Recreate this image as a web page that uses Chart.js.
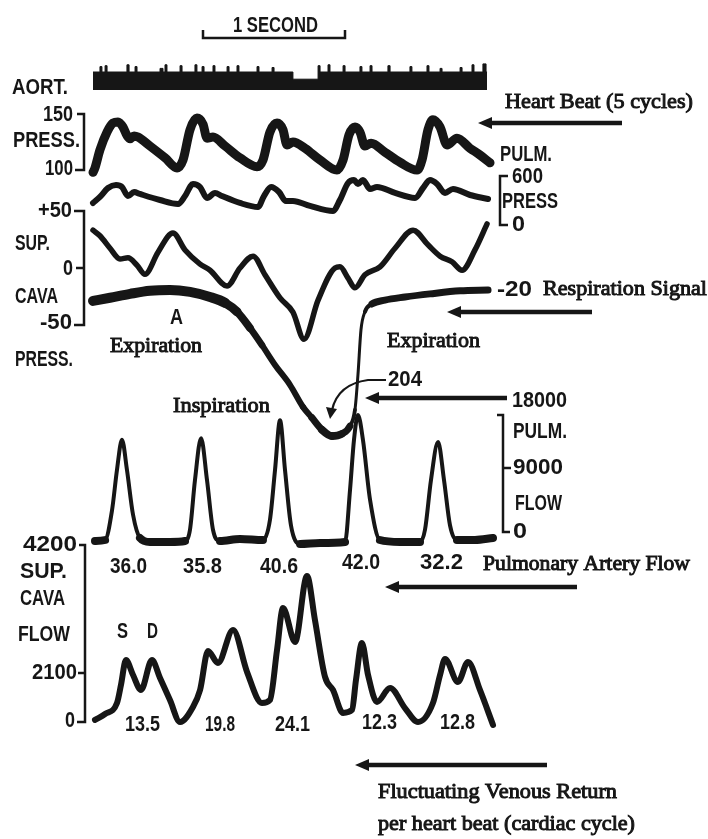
<!doctype html>
<html>
<head>
<title>Venous return recording</title>
<script src="https://cdn.jsdelivr.net/npm/chart.js"></script>
<style>
body { margin: 0; background: #fff; }
#wrap { width: 708px; height: 839px; }
</style>
</head>
<body>
<div id="wrap"><canvas id="canvas" width="708" height="839"></canvas></div>
<script>
// time in seconds from the start of the record (the "1 SECOND" bar = 142 px)
const markT = [0, 0.049, 0.063, 0.085, 0.099, 0.239, 0.254, 0.296, 0.310, 0.472, 0.493, 0.507, 0.521, 0.613, 0.627, 0.718, 0.732, 0.768, 0.782, 0.845, 0.859, 0.944, 0.958, 1.014, 1.028, 1.155, 1.169, 1.261, 1.275, 1.408, 1.585, 1.599, 1.655, 1.669, 1.761, 1.775, 1.880, 1.894, 1.951, 1.965, 2.077, 2.092, 2.232, 2.246, 2.352, 2.366, 2.444, 2.458, 2.585, 2.599, 2.669, 2.683, 2.746, 2.768, 2.775];
const markV = [1, 1.3, 1, 1.35, 1, 1.4, 1, 1.3, 1, 1.2, 1, 1.4, 1, 1.35, 1, 1.4, 1, 1.3, 1, 1.35, 1, 1.3, 1, 1.35, 1, 1.3, 1, 1.25, 1, 0.6, 1.35, 1, 1.4, 1, 1.35, 1, 1.3, 1, 1.35, 1, 1.35, 1, 1.3, 1, 1.35, 1, 1.2, 1, 1.25, 1, 1.4, 1, 1.45, 1, 1];

// aortic pressure, mmHg
const aortT = [0, 0.014, 0.049, 0.099, 0.141, 0.176, 0.211, 0.239, 0.261, 0.289, 0.317, 0.401, 0.507, 0.592, 0.634, 0.683, 0.732, 0.775, 0.803, 0.845, 0.930, 1.035, 1.155, 1.197, 1.246, 1.296, 1.338, 1.366, 1.408, 1.493, 1.599, 1.718, 1.761, 1.803, 1.845, 1.880, 1.915, 1.958, 2.056, 2.162, 2.282, 2.317, 2.359, 2.394, 2.444, 2.493, 2.563, 2.655, 2.725, 2.796];
const aortP = [97, 101, 117, 133, 141, 142, 137.5, 130, 127, 129.5, 128.5, 120.5, 110, 101, 108, 135, 145.5, 140, 127.5, 128.5, 120.5, 110, 102, 108, 133, 141, 135, 121.5, 124, 118.5, 108, 99, 108, 130.5, 137.5, 133, 120.5, 123, 115, 106, 99, 108, 135, 144, 137.5, 121.5, 127.5, 118.5, 112.5, 105.5];

// pulmonary artery pressure
const pulmPT = [0, 0.049, 0.106, 0.162, 0.204, 0.246, 0.289, 0.331, 0.472, 0.599, 0.648, 0.704, 0.754, 0.803, 0.859, 0.908, 1.035, 1.162, 1.204, 1.254, 1.310, 1.359, 1.408, 1.528, 1.690, 1.739, 1.796, 1.838, 1.866, 1.901, 1.951, 2.000, 2.127, 2.268, 2.324, 2.373, 2.423, 2.479, 2.535, 2.655, 2.782];
const pulmPV = [281, 358, 472, 511, 485, 370, 421, 396, 319, 268, 370, 524, 485, 345, 409, 370, 281, 230, 370, 485, 421, 306, 306, 243, 179, 319, 536, 574, 524, 574, 460, 485, 409, 345, 472, 574, 524, 409, 460, 383, 332];

// superior vena cava pressure
const svcPT = [0, 0.049, 0.120, 0.190, 0.246, 0.310, 0.366, 0.458, 0.563, 0.648, 0.754, 0.824, 0.944, 1.035, 1.127, 1.211, 1.317, 1.408, 1.486, 1.585, 1.704, 1.739, 1.796, 1.845, 1.915, 2.021, 2.127, 2.254, 2.359, 2.444, 2.528, 2.599, 2.690, 2.775];
const svcPV = [33.5, 28.5, 17.5, 8, 9, 2.5, -5.5, 14, 31, 16, 3.5, -2, -16, 0, 10.5, -6, -26.5, -39, -63, -28.5, 0, 1, -9, -17.5, -6, 1, 17.5, 33.5, 20.5, 10.5, 5.5, -2, 16, 39];

// respiration signal
const respT = [0, 0.120, 0.261, 0.401, 0.542, 0.683, 0.824, 0.930, 1.014, 1.106, 1.190, 1.282, 1.387, 1.479, 1.542, 1.613, 1.683, 1.754, 1.810, 1.845, 1.866, 1.887, 1.915, 1.965, 2.056, 2.197, 2.373, 2.585, 2.782];
const respV = [-34, -30, -25, -21, -20, -22.5, -29, -36.5, -48, -69, -91, -116.5, -142, -170.5, -184.5, -200, -208, -205, -195, -174, -129, -71.5, -48, -38, -33, -29, -25, -21, -20];

// pulmonary artery flow
const pulmFT = [0.014, 0.085, 0.134, 0.169, 0.204, 0.239, 0.282, 0.331, 0.401, 0.542, 0.648, 0.683, 0.718, 0.761, 0.803, 0.845, 0.894, 1.035, 1.197, 1.246, 1.282, 1.317, 1.352, 1.394, 1.458, 1.599, 1.775, 1.810, 1.838, 1.866, 1.901, 1.951, 2.021, 2.162, 2.303, 2.338, 2.380, 2.430, 2.472, 2.514, 2.563, 2.690, 2.817];
const pulmFV = [-400, -270, 3700, 9100, 13100, 9100, 3100, 0, -530, -530, -400, 1100, 7700, 13300, 7700, 1100, -400, -130, -270, 2400, 9100, 15700, 9100, 1700, -800, -670, -530, 6400, 13100, 16400, 13100, 5100, -270, -530, -530, 1100, 7700, 12800, 7700, 1700, -270, -270, 0];

// superior vena cava flow
const svcFT = [0.014, 0.085, 0.169, 0.197, 0.232, 0.282, 0.338, 0.415, 0.472, 0.542, 0.613, 0.704, 0.754, 0.810, 0.880, 0.986, 1.085, 1.190, 1.246, 1.296, 1.338, 1.423, 1.507, 1.563, 1.634, 1.690, 1.761, 1.824, 1.852, 1.894, 1.937, 2.000, 2.092, 2.197, 2.289, 2.394, 2.444, 2.479, 2.570, 2.641, 2.725, 2.817];
const svcFV = [50, 190, 450, 880, 1470, 1115, 760, 1470, 1045, 520, 0, 355, 760, 1685, 1400, 2185, 1185, 450, 520, 1710, 2705, 1900, 3465, 2420, 1070, 760, 215, 285, 1000, 1875, 1115, 475, 805, 330, 0, 450, 1115, 1495, 950, 1425, 760, -70];

// per-beat volumes printed under the flow traces
const pulmBeats = ['36.0', '35.8', '40.6', '42.0', '32.2'];
const svcBeats = ['13.5', '19.8', '24.1', '12.3', '12.8'];

const W = 708, H = 839;
const INK = '#161616';
const SANS = 'bold 22px "Liberation Sans Narrow", "Liberation Sans", Arial, sans-serif';
const SERIF = '22px "Liberation Serif", "Times New Roman", serif';

function pts(ts, vs) {
	return ts.map((t, i) => ({x: t, y: vs[i]}));
}

// a hidden linear axis that puts value v1 at pixel p1 and v2 at pixel p2
function band(v1, p1, v2, p2) {
	const k = (v1 - v2) / (p2 - p1);
	return {type: 'linear', display: false, bounds: 'data', min: v1 - (H - p1) * k, max: v1 + p1 * k};
}

function trace(label, ts, vs, axis, width) {
	return {
		label: label,
		data: pts(ts, vs),
		yAxisID: axis,
		borderColor: INK,
		borderWidth: width,
		borderCapStyle: 'round',
		borderJoinStyle: 'round',
		pointRadius: 0,
		cubicInterpolationMode: 'monotone',
		fill: false
	};
}

function fitText(ctx, s, x0, x1, y, font, base, thick) {
	ctx.font = font;
	const w = ctx.measureText(s).width;
	ctx.save();
	ctx.translate(x0, y);
	ctx.scale((x1 - x0) / w, 1);
	ctx.textAlign = 'left';
	ctx.textBaseline = base;
	ctx.fillText(s, 0, 0);
	if (thick) {
		ctx.lineWidth = thick;
		ctx.strokeText(s, 0, 0);
	}
	ctx.restore();
}

function arrow(ctx, tip, tail, y) {
	ctx.lineWidth = 4.5;
	ctx.beginPath();
	ctx.moveTo(tip + 10, y);
	ctx.lineTo(tail, y);
	ctx.stroke();
	ctx.beginPath();
	ctx.moveTo(tip, y);
	ctx.lineTo(tip + 14, y - 6);
	ctx.lineTo(tip + 14, y + 6);
	ctx.closePath();
	ctx.fill();
}

function poly(ctx, p) {
	ctx.beginPath();
	ctx.moveTo(p[0][0], p[0][1]);
	for (let i = 1; i < p.length; i++) {
		ctx.lineTo(p[i][0], p[i][1]);
	}
	ctx.stroke();
}

const sansLabels = [
	['AORT.', 12, 68, 88], ['150', 43, 73, 115], ['PRESS.', 13, 80, 141], ['100', 45, 73, 169],
	['+50', 38, 72, 211], ['SUP.', 15, 50, 244], ['0', 63, 73, 269], ['CAVA', 15, 58, 297],
	['-50', 40, 72, 323], ['PRESS.', 15, 73, 360],
	['4200', 23, 77, 545], ['SUP.', 20, 67, 572], ['CAVA', 20, 65, 599], ['FLOW', 18, 70, 635],
	['2100', 32, 77, 673], ['0', 65, 75, 721],
	['1 SECOND', 233, 318, 26],
	['PULM.', 500, 552, 155], ['600', 512, 543, 177], ['PRESS', 502, 558, 202], ['0', 512, 525, 225],
	['-20', 497, 532, 290], ['A', 170, 183, 318], ['204', 388, 422, 380],
	['18000', 512, 567, 401], ['PULM.', 513, 567, 432], ['9000', 513, 563, 468], ['FLOW', 515, 562, 504], ['0', 513, 527, 532],
	['S', 117, 128, 632], ['D', 147, 158, 632]
];
const pulmBeatPos = [[110, 147, 567], [183, 222, 567], [260, 298, 567], [342, 380, 563], [420, 463, 563]];
const svcBeatPos = [[125, 160, 725], [205, 235, 725], [275, 310, 725], [362, 397, 723], [440, 475, 723]];

const serifLabels = [
	['Heart Beat (5 cycles)', 505, 693, 108],
	['Respiration Signal', 543, 707, 295],
	['Expiration', 110, 202, 352],
	['Expiration', 387, 480, 347],
	['Inspiration', 173, 270, 412],
	['Pulmonary Artery Flow', 483, 690, 570],
	['Fluctuating Venous Return', 378, 617, 798],
	['per heart beat (cardiac cycle)', 378, 635, 830]
];
const arrows = [[478, 622, 123], [447, 592, 312], [365, 507, 398], [385, 577, 587], [355, 547, 765]];

const paper = {
	id: 'paper',
	beforeDraw(chart) {
		const ctx = chart.ctx;
		ctx.save();
		ctx.fillStyle = '#fff';
		ctx.fillRect(0, 0, W, H);
		ctx.restore();
	},
	afterDraw(chart) {
		const ctx = chart.ctx;
		ctx.save();
		ctx.fillStyle = INK;
		ctx.strokeStyle = INK;
		sansLabels.forEach(l => fitText(ctx, l[0], l[1], l[2], l[3], SANS, 'middle'));
		pulmBeats.forEach((s, i) => fitText(ctx, s, pulmBeatPos[i][0], pulmBeatPos[i][1], pulmBeatPos[i][2], SANS, 'middle'));
		svcBeats.forEach((s, i) => fitText(ctx, s, svcBeatPos[i][0], svcBeatPos[i][1], svcBeatPos[i][2], SANS, 'middle'));
		serifLabels.forEach(l => fitText(ctx, l[0], l[1], l[2], l[3], SERIF, 'alphabetic', 1));

		ctx.lineCap = 'butt';
		arrows.forEach(a => arrow(ctx, a[0], a[1], a[2]));

		// scale brackets
		ctx.lineWidth = 2.5;
		poly(ctx, [[203, 30], [203, 38], [345, 38], [345, 30]]);
		poly(ctx, [[77, 114], [84, 114], [84, 170], [75, 170]]);
		poly(ctx, [[74, 211], [84, 211], [84, 325], [74, 325]]);
		poly(ctx, [[76, 268], [84, 268]]);
		poly(ctx, [[79, 545], [85, 545], [85, 722], [77, 722]]);
		poly(ctx, [[78, 673], [85, 673]]);
		poly(ctx, [[508, 176], [500, 176], [500, 225], [508, 225]]);
		poly(ctx, [[497, 415], [503, 415], [503, 532], [510, 532]]);
		poly(ctx, [[503, 468], [511, 468]]);

		// leader from the -204 reading down to the respiration trough
		ctx.lineWidth = 2.2;
		ctx.beginPath();
		ctx.moveTo(386, 380);
		ctx.lineTo(368, 380);
		ctx.quadraticCurveTo(338, 384, 332, 410);
		ctx.stroke();
		ctx.beginPath();
		ctx.moveTo(330, 419);
		ctx.lineTo(326, 407);
		ctx.lineTo(337, 409);
		ctx.closePath();
		ctx.fill();
		ctx.restore();
	}
};

// pen width of the respiration trace along the record (thick at rest, thin on the fast upstroke)
const respPen = [[0, 10], [0.9, 10], [1.2, 6], [1.5, 6], [1.65, 8], [1.78, 7], [1.84, 3], [1.92, 3], [2.0, 7], [2.8, 7]];
function respWidth(t) {
	for (let i = 1; i < respPen.length; i++) {
		const a = respPen[i - 1], b = respPen[i];
		if (t <= b[0]) {
			return a[1] + (b[1] - a[1]) * (t - a[0]) / (b[0] - a[0]);
		}
	}
	return respPen[respPen.length - 1][1];
}

const ctx = document.getElementById('canvas').getContext('2d');
window.myChart = new Chart(ctx, {
	type: 'line',
	data: {
		datasets: [
			{
				label: 'Time marker',
				data: pts(markT, markV),
				yAxisID: 'yMark',
				stepped: true,
				borderColor: INK,
				borderWidth: 1,
				backgroundColor: INK,
				pointRadius: 0,
				fill: {value: 0}
			},
			trace('Aortic pressure', aortT, aortP, 'yAort', 9),
			trace('Pulmonary pressure', pulmPT, pulmPV, 'yPulmP', 6),
			trace('SVC pressure', svcPT, svcPV, 'ySvcP', 5.5),
			Object.assign(trace('Respiration', respT, respV, 'yResp', 8), {
				segment: {borderWidth: c => respWidth((c.p0.parsed.x + c.p1.parsed.x) / 2)}
			}),
			Object.assign(trace('Pulmonary flow', pulmFT, pulmFV, 'yPulmF', 4), {
				segment: {borderWidth: c => (c.p0.parsed.y < 500 && c.p1.parsed.y < 500) ? 8 : 4}
			}),
			trace('SVC flow', svcFT, svcFV, 'ySvcF', 6)
		]
	},
	options: {
		responsive: false,
		animation: false,
		events: [],
		layout: {padding: 0},
		plugins: {
			legend: {display: false},
			title: {display: false},
			tooltip: {enabled: false}
		},
		scales: {
			x: {type: 'linear', display: false, bounds: 'data', min: -93 / 142, max: (W - 93) / 142},
			yMark: band(0, 90, 1, 72),
			yAort: band(150, 113, 100, 169),
			yPulmP: band(600, 178, 0, 225),
			ySvcP: band(50, 211.5, -50, 324.5),
			yResp: band(-20, 290, -204, 433),
			yPulmF: band(0, 538, 18000, 403),
			ySvcF: band(0, 722, 4200, 545)
		}
	},
	plugins: [paper]
});
</script>
</body>
</html>
